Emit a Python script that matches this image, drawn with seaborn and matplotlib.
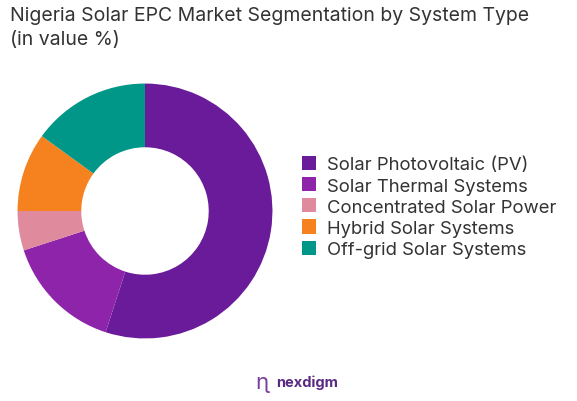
import matplotlib
matplotlib.use("Agg")
import matplotlib.pyplot as plt
import seaborn as sns

sns.set_theme(style="white")
plt.rcParams['font.family'] = ['Inter', 'DejaVu Sans']

labels = ["Solar Photovoltaic (PV)", "Solar Thermal Systems", "Concentrated Solar Power",
          "Hybrid Solar Systems", "Off-grid Solar Systems"]
values = [55, 15, 5, 10, 15]
colors = ["#6a1b9a", "#8e24aa", "#e08a9e", "#f5821f", "#009688"]

fig = plt.figure(figsize=(5.77, 4.02), dpi=100)
ax = fig.add_axes([145/577 - 130/577, 1 - (212+130)/402, 260/577, 260/402])
wedges, _ = ax.pie(values, colors=colors, startangle=90, counterclock=False,
                   wedgeprops=dict(width=0.5, edgecolor="none"), radius=1.0)
ax.set_aspect("equal")
ax.set_xlim(-1.02, 1.02); ax.set_ylim(-1.02, 1.02)

fig.text(10/577, 1 - 7/402, "Nigeria Solar EPC Market Segmentation by System Type\n(in value %)",
         fontsize=14, color="#333333", va="top", ha="left", linespacing=1.4)

fig.legend(wedges, labels, loc="center left", bbox_to_anchor=(285/577, 1 - 208/402),
           frameon=False, fontsize=13.3, handlelength=0.8, handleheight=0.8,
           labelspacing=0.2, handletextpad=0.6, labelcolor="#333333")

fig.text(262/577, 1 - 383/402, "\u0273", fontsize=16, color="#7b3fa0", ha="center", va="center")
fig.text(276/577, 1 - 383/402, "nexdigm", fontsize=10.5, color="#5a2a82", ha="left", va="center",
         fontweight="bold")

fig.savefig("out.png", dpi=100)
